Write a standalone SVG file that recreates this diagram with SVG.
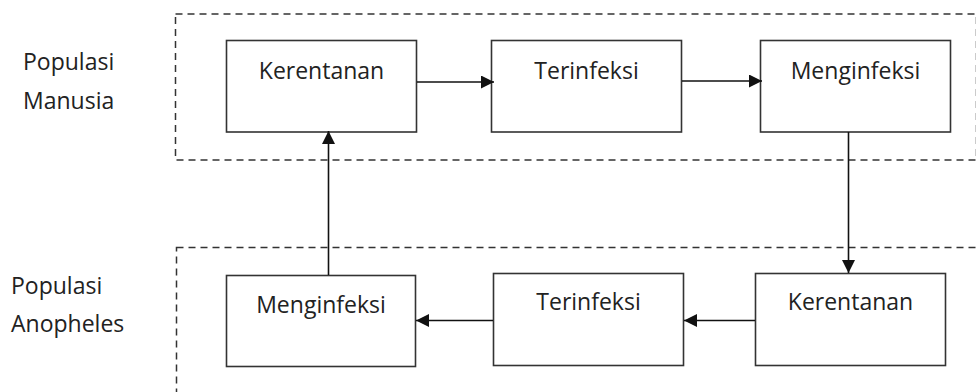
<svg xmlns="http://www.w3.org/2000/svg" width="976" height="392" viewBox="0 0 976 392">
  <style>
    .zone { fill: none; stroke: #333; stroke-width: 1.5; stroke-dasharray: 7 5; }
    .box { fill: #fff; stroke: #333; stroke-width: 1.6; }
    .label { font-family: "Open Sans", "Noto Sans", sans-serif; font-size: 23px; fill: #222; }
    .mid { text-anchor: middle; }
    .edge { fill: none; stroke: #111; stroke-width: 1.6; marker-end: url(#head); }
  </style>
  <defs>
    <marker id="head" markerUnits="userSpaceOnUse" markerWidth="13" markerHeight="13" refX="13" refY="6.5" orient="auto">
      <path d="M0,0 L13,6.5 L0,13 Z" fill="#111"/>
    </marker>
  </defs>

  <rect width="976" height="392" fill="#fff"/>

  <!-- population zones -->
  <g id="zone-manusia">
    <rect class="zone" x="175.5" y="14" width="801" height="146"/>
    <text class="label" x="23" y="70">Populasi</text>
    <text class="label" x="23" y="109">Manusia</text>
  </g>
  <g id="zone-anopheles">
    <rect class="zone" x="176.5" y="247.5" width="830" height="180"/>
    <text class="label" x="11" y="294">Populasi</text>
    <text class="label" x="11" y="332">Anopheles</text>
  </g>

  <!-- human compartments -->
  <g id="h-kerentanan">
    <rect class="box" x="226.5" y="40.5" width="190" height="91.5"/>
    <text class="label mid" x="321.5" y="79">Kerentanan</text>
  </g>
  <g id="h-terinfeksi">
    <rect class="box" x="491.5" y="40.5" width="190" height="91.5"/>
    <text class="label mid" x="586.5" y="79">Terinfeksi</text>
  </g>
  <g id="h-menginfeksi">
    <rect class="box" x="760.5" y="40.5" width="190" height="91.5"/>
    <text class="label mid" x="855.5" y="79">Menginfeksi</text>
  </g>

  <!-- mosquito compartments -->
  <g id="m-menginfeksi">
    <rect class="box" x="226.5" y="275.5" width="189" height="91"/>
    <text class="label mid" x="321" y="313">Menginfeksi</text>
  </g>
  <g id="m-terinfeksi">
    <rect class="box" x="493.5" y="273.5" width="190" height="92"/>
    <text class="label mid" x="588.5" y="310">Terinfeksi</text>
  </g>
  <g id="m-kerentanan">
    <rect class="box" x="755.5" y="273.5" width="190" height="92"/>
    <text class="label mid" x="850.5" y="310">Kerentanan</text>
  </g>

  <!-- transitions -->
  <g id="connectors">
    <line class="edge" x1="417" y1="82" x2="494" y2="82"/>
    <line class="edge" x1="682" y1="81" x2="762" y2="81"/>
    <line class="edge" x1="848.5" y1="132" x2="848.5" y2="273"/>
    <line class="edge" x1="755" y1="320.5" x2="684" y2="320.5"/>
    <line class="edge" x1="493" y1="320.5" x2="416" y2="320.5"/>
    <line class="edge" x1="328.5" y1="275" x2="328.5" y2="131"/>
  </g>
</svg>
